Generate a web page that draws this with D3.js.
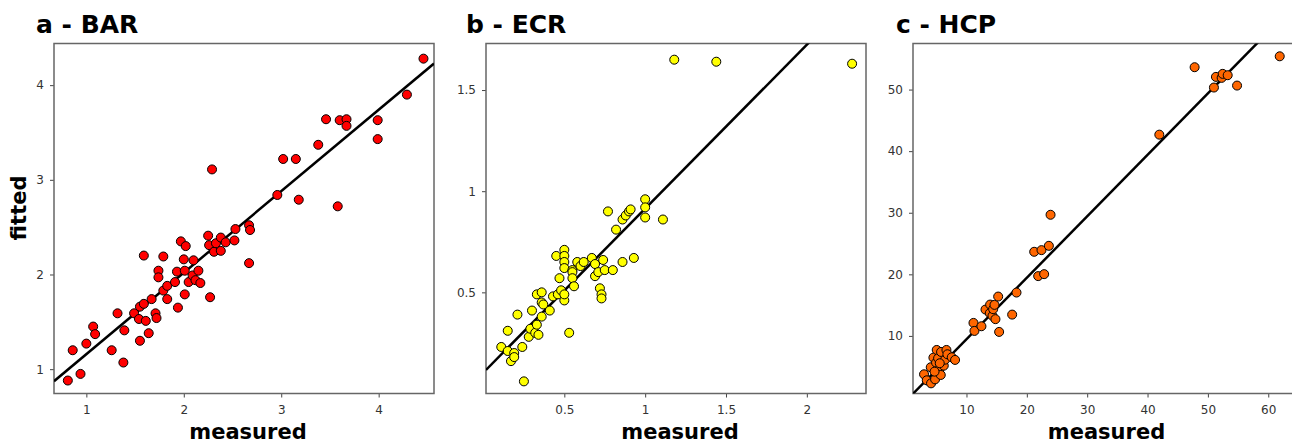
<!DOCTYPE html>
<html>
<head>
<meta charset="utf-8">
<script src="https://cdn.jsdelivr.net/npm/d3@7"></script>
<style>
  body { margin: 0; background: white; }
  svg { display: block; }
</style>
</head>
<body>
<div id="container"></div>
<script>
let w = 1292;
let h = 444;

// panel a - BAR
let barMeasured = [0.81, 0.86, 0.94, 1.00, 1.07, 1.09, 1.26, 1.32, 1.38, 1.39, 1.49, 1.54, 1.55, 1.55, 1.59, 1.59,
  1.61, 1.64, 1.67, 1.71, 1.72, 1.74, 1.74, 1.79, 1.79, 1.83, 1.83, 1.91, 1.93, 1.94, 1.97, 2.00, 2.01, 2.02,
  2.01, 2.05, 2.09, 2.10, 2.12, 2.15, 2.17, 2.25, 2.26, 2.27, 2.29, 2.31, 2.33, 2.38, 2.38, 2.43, 2.52, 2.53,
  2.67, 2.68, 2.67, 2.96, 3.02, 3.15, 3.18, 3.38, 3.46, 3.58, 3.60, 3.67, 3.67, 3.99, 3.99, 4.29, 4.46];
let barFitted = [0.88, 1.20, 0.95, 1.27, 1.45, 1.37, 1.20, 1.59, 1.07, 1.41, 1.59, 1.53, 1.66, 1.30, 1.69, 2.20,
  1.51, 1.38, 1.74, 1.59, 1.54, 2.04, 1.97, 1.83, 2.19, 1.88, 1.74, 1.92, 2.03, 1.65, 2.35, 2.16, 1.79, 2.30,
  2.04, 1.92, 1.99, 2.15, 1.94, 2.04, 1.91, 2.41, 2.31, 1.76, 3.11, 2.24, 2.33, 2.25, 2.39, 2.34, 2.36, 2.48,
  2.52, 2.47, 2.12, 2.84, 3.22, 3.22, 2.79, 3.37, 3.64, 2.72, 3.63, 3.64, 3.57, 3.63, 3.43, 3.90, 4.28];

// panel b - ECR
let ecrMeasured = [0.11, 0.15, 0.17, 0.19, 0.19, 0.15, 0.21, 0.24, 0.25, 0.28, 0.30, 0.29, 0.32, 0.33, 0.34,
  0.33, 0.36, 0.36, 0.37, 0.36, 0.41, 0.43, 0.46, 0.45, 0.47, 0.48, 0.50, 0.50, 0.50, 0.50, 0.50, 0.50, 0.53,
  0.55, 0.55, 0.55, 0.56, 0.58, 0.60, 0.62, 0.67, 0.69, 0.69, 0.71, 0.72, 0.73, 0.73, 0.74, 0.75, 0.80, 0.82,
  0.86, 0.93, 0.77, 0.86, 0.88, 0.90, 0.91, 1.00, 1.00, 1.00, 1.11, 1.18, 1.44, 2.28];
let ecrFitted = [0.23, 0.21, 0.16, 0.20, 0.18, 0.31, 0.39, 0.23, 0.06, 0.28, 0.41, 0.32, 0.30, 0.34, 0.29,
  0.49, 0.50, 0.45, 0.44, 0.38, 0.41, 0.48, 0.49, 0.68, 0.57, 0.51, 0.46, 0.49, 0.71, 0.68, 0.65, 0.62, 0.30,
  0.61, 0.60, 0.57, 0.53, 0.65, 0.63, 0.65, 0.67, 0.64, 0.58, 0.60, 0.52, 0.49, 0.47, 0.66, 0.61, 0.61, 0.81,
  0.65, 0.67, 0.90, 0.86, 0.88, 0.90, 0.91, 0.96, 0.92, 0.87, 0.86, 1.65, 1.64, 1.63];

// panel c - HCP
let hcpMeasured = [2.97, 3.42, 4.13, 4.08, 4.52, 4.80, 4.96, 5.07, 5.30, 5.52, 5.74, 5.79, 6.24, 6.46, 6.68,
  6.84, 7.56, 8.11, 4.71, 5.57, 11.16, 11.32, 12.48, 13.15, 13.92, 13.86, 14.31, 14.42, 14.64, 14.80, 15.25,
  15.41, 17.57, 18.29, 21.22, 21.88, 22.43, 22.87, 23.65, 23.93, 41.95, 47.80, 51.00, 51.33, 52.28, 52.45,
  53.28, 54.83, 61.90];
let hcpFitted = [3.77, 2.79, 2.30, 4.91, 6.47, 2.95, 5.66, 7.72, 6.37, 4.58, 3.66, 7.40, 5.17, 6.15, 7.72,
  7.02, 6.53, 6.10, 4.20, 5.56, 12.11, 10.81, 11.57, 14.28, 15.09, 13.69, 13.25, 14.34, 15.04, 12.72, 16.39,
  10.65, 13.46, 17.04, 23.66, 19.71, 23.93, 20.03, 24.63, 29.67, 42.68, 53.63, 50.33, 52.06, 51.90, 52.55,
  52.33, 50.65, 55.40];

// fitted regression lines [intercept, slope]
let barLine = [0.298, 0.8605];
let ecrLine = [0.104, 0.81];
let hcpLine = [-0.52, 0.998];

// tick values
let barTicksX = [1, 2, 3, 4];
let barTicksY = [1, 2, 3, 4];
let ecrTicksX = [0.5, 1, 1.5, 2];
let ecrTicksY = [0.5, 1, 1.5];
let hcpTicksX = [10, 20, 30, 40, 50, 60];
let hcpTicksY = [10, 20, 30, 40, 50];

let panels = [
  {title: "a - BAR", x: barMeasured, y: barFitted, line: barLine, tx: barTicksX, ty: barTicksY,
   xDomain: [0.668, 4.568], yDomain: [0.743, 4.44], left: 54, right: 434, fill: "#ff0000", titleX: 36},
  {title: "b - ECR", x: ecrMeasured, y: ecrFitted, line: ecrLine, tx: ecrTicksX, ty: ecrTicksY,
   xDomain: [0.0155, 2.366], yDomain: [0.0, 1.73], left: 486, right: 866, fill: "#ffff00", titleX: 466},
  {title: "c - HCP", x: hcpMeasured, y: hcpFitted, line: hcpLine, tx: hcpTicksX, ty: hcpTicksY,
   xDomain: [1.14, 64.1], yDomain: [0.65, 57.48], left: 913, right: 1293, fill: "#ff6600", titleX: 896}
];

let plotTop = 43.5;
let plotBottom = 393.5;

let viz = d3.select("#container").append("svg")
    .attr("width", w)
    .attr("height", h)
    .style("background-color", "white")
    .style("font-family", "'DejaVu Sans', sans-serif")
;

panels.forEach(function(p, i){
  let xScale = d3.scaleLinear().domain(p.xDomain).range([p.left, p.right]);
  let yScale = d3.scaleLinear().domain(p.yDomain).range([plotBottom, plotTop]);

  let g = viz.append("g").attr("class", "panel");

  // clip for the fit line
  viz.append("clipPath").attr("id", "clip" + i)
    .append("rect")
      .attr("x", p.left).attr("y", plotTop)
      .attr("width", p.right - p.left).attr("height", plotBottom - plotTop);

  // x axis
  let xAxis = d3.axisBottom(xScale).tickValues(p.tx).tickSize(4).tickPadding(8).tickFormat(d => String(d));
  let gx = g.append("g").attr("transform", "translate(0," + plotBottom + ")").call(xAxis);
  // y axis
  let yAxis = d3.axisLeft(yScale).tickValues(p.ty).tickSize(4).tickPadding(6).tickFormat(d => String(d));
  let gy = g.append("g").attr("transform", "translate(" + p.left + ",0)").call(yAxis);

  [gx, gy].forEach(function(ax){
    ax.select(".domain").remove();
    ax.selectAll(".tick line").attr("stroke", "#444").attr("stroke-width", 1);
    ax.selectAll(".tick text")
      .attr("fill", "#333")
      .style("font-family", "'DejaVu Sans', sans-serif")
      .style("font-size", "12px");
  });

  // box
  g.append("rect")
    .attr("x", p.left).attr("y", plotTop)
    .attr("width", p.right - p.left).attr("height", plotBottom - plotTop)
    .attr("fill", "none")
    .attr("stroke", "#666")
    .attr("stroke-width", 1.5);

  // fitted line
  let x0 = p.xDomain[0], x1 = p.xDomain[1];
  g.append("line")
    .attr("clip-path", "url(#clip" + i + ")")
    .attr("x1", xScale(x0)).attr("y1", yScale(p.line[0] + p.line[1] * x0))
    .attr("x2", xScale(x1)).attr("y2", yScale(p.line[0] + p.line[1] * x1))
    .attr("stroke", "black")
    .attr("stroke-width", 2.5);

  // points
  let pts = p.x.map(function(d, j){ return {mx: d, fy: p.y[j]}; });
  g.selectAll(".dot").data(pts).enter()
    .append("circle")
      .attr("class", "dot")
      .attr("cx", d => xScale(d.mx))
      .attr("cy", d => yScale(d.fy))
      .attr("r", 4.5)
      .attr("fill", p.fill)
      .attr("stroke", "black")
      .attr("stroke-width", 1);

  // title
  g.append("text")
    .attr("x", p.titleX).attr("y", 33)
    .style("font-size", "25px")
    .style("font-weight", "bold")
    .attr("fill", "black")
    .text(p.title);

  // x label
  g.append("text")
    .attr("x", (p.left + Math.min(p.right, w)) / 2 + 4).attr("y", 439)
    .attr("text-anchor", "middle")
    .style("font-size", "21px")
    .style("font-weight", "bold")
    .text("measured");
});

// y label (only on first panel)
viz.append("text")
  .attr("transform", "translate(26,208) rotate(-90)")
  .attr("text-anchor", "middle")
  .style("font-size", "21px")
  .style("font-weight", "bold")
  .text("fitted");
</script>
</body>
</html>
